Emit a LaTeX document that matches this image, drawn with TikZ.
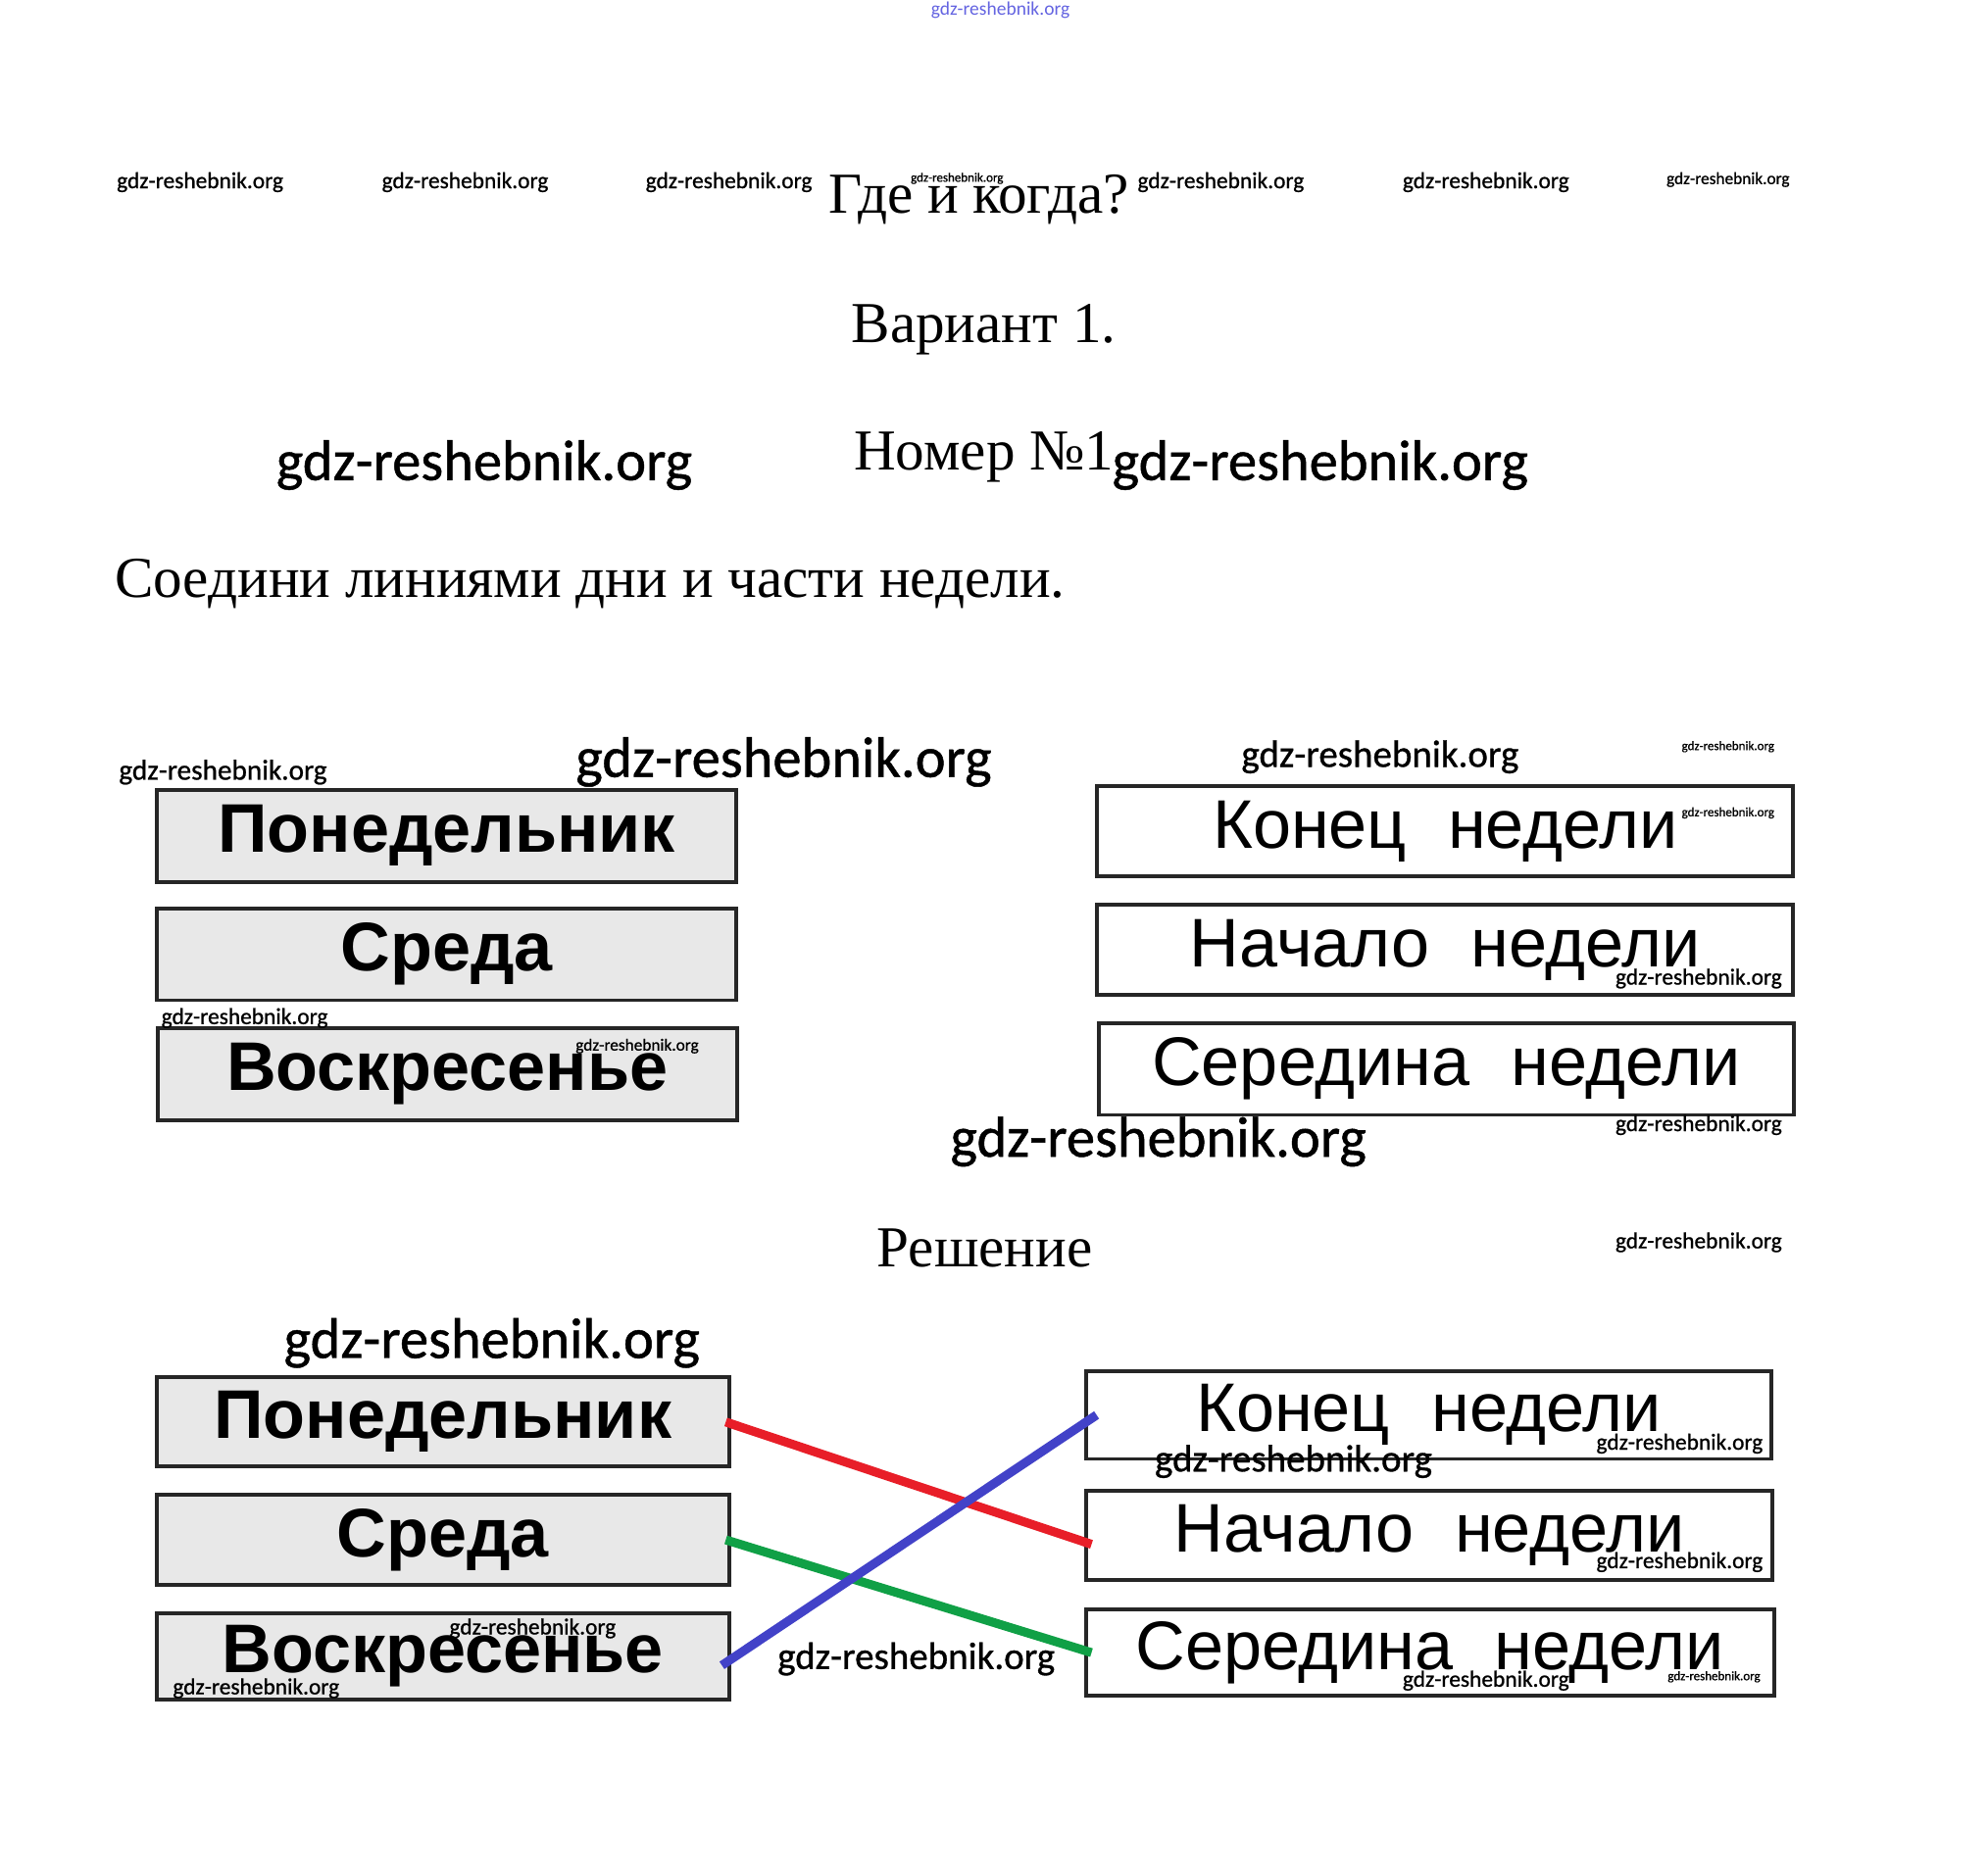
\documentclass[tikz,border=0pt]{standalone}
\usepackage{fontspec}
\setmainfont{Liberation Serif}
\newfontfamily\wmfont[FakeBold=0.8]{Carlito}
\newfontfamily\wmthin{Carlito}
\newfontfamily\arialfont{Liberation Sans}
\definecolor{boxgray}{RGB}{232,232,232}
\definecolor{lred}{RGB}{232,30,40}
\definecolor{lblue}{RGB}{66,66,200}
\definecolor{lgreen}{RGB}{16,160,70}
\definecolor{wblue}{RGB}{100,100,225}
\newcommand\wmk[4]{\node[wmnode,font=\wmfont\fontsize{#4}{#4}\selectfont] (#1) at (#2,#3) {gdz-reshebnik.org};}
\begin{document}
\begin{tikzpicture}[x=1pt,y=-1pt,
  wmnode/.style={inner sep=0pt,text=black},
  ttl/.style={anchor=base west,inner sep=0pt,font=\fontsize{45.5}{50}\selectfont},
  daybox/.style={draw=black!85,line width=3pt,fill=boxgray,inner sep=0pt,
     font=\arialfont\bfseries\fontsize{54}{58}\selectfont},
  partbox/.style={draw=black!85,line width=3pt,fill=white,inner sep=0pt,
     font=\arialfont\fontsize{54}{58}\selectfont},
  link/.style={line width=7pt}]
\fill[white] (0,0) rectangle (1560,1471.5);
\useasboundingbox (0,0) rectangle (1560,1471.5);
% titles
\node[ttl] (t1) at (650,167) {Где и когда?};
\node[ttl] (t2) at (668,269) {Вариант 1.};
\node[ttl] (t3) at (670,369) {Номер №1};
\node[ttl] (t4) at (90,469) {Соедини линиями дни и части недели.};
\node[ttl] (t5) at (688,994) {Решение};
% upper boxes
\node[daybox,minimum width=455pt,minimum height=72pt] (a1) at (350.5,656) {Понедельник};
\node[daybox,minimum width=455pt,minimum height=72pt] (a2) at (350.5,749) {Среда};
\node[daybox,minimum width=455pt,minimum height=72pt] (a3) at (351,843) {Воскресенье};
\node[partbox,minimum width=546pt,minimum height=71pt] (b1) at (1134,652.5) {Конец\hspace{0.6em}недели};
\node[partbox,minimum width=546pt,minimum height=71pt] (b2) at (1134,745.5) {Начало\hspace{0.6em}недели};
\node[partbox,minimum width=546pt,minimum height=72pt] (b3) at (1135,839) {Середина\hspace{0.6em}недели};
% lower boxes
\node[daybox,minimum width=449pt,minimum height=70pt] (c1) at (347.5,1116) {Понедельник};
\node[daybox,minimum width=449pt,minimum height=71pt] (c2) at (347.5,1208.5) {Среда};
\node[daybox,minimum width=449pt,minimum height=68pt] (c3) at (347.5,1300) {Воскресенье};
\node[partbox,minimum width=538pt,minimum height=69pt] (d1) at (1121,1110.5) {Конец\hspace{0.6em}недели};
\node[partbox,minimum width=539pt,minimum height=70pt] (d2) at (1121.5,1205) {Начало\hspace{0.6em}недели};
\node[partbox,minimum width=540pt,minimum height=68pt] (d3) at (1122,1297) {Середина\hspace{0.6em}недели};
% connecting lines
\draw[link,lred] ([xshift=-4pt]c1.east) -- ([xshift=6pt,yshift=-7pt]d2.west);
\draw[link,lgreen] ([xshift=-4pt]c2.east) -- ([xshift=6pt]d3.west);
\draw[link,lblue] ([xshift=-7pt,yshift=-7pt]c3.east) -- ([xshift=10pt]d1.west);
% watermarks
\node[wmnode,text=wblue,font=\wmthin\fontsize{15}{15}\selectfont] (w0) at (785,8) {gdz-reshebnik.org};
\wmk{w1}{157}{143}{18}
\wmk{w2}{365}{143}{18}
\wmk{w3}{572}{143}{18}
\wmk{w4}{751}{140}{10}
\wmk{w5}{958}{143}{18}
\wmk{w6}{1166}{143}{18}
\wmk{w7}{1356}{141}{13.3}
\wmk{w8}{380}{365}{45}
\wmk{w9}{1036}{365}{45}
\wmk{w10}{175}{606}{22.5}
\wmk{w11}{615}{598}{45}
\wmk{w12}{1083}{594}{30}
\wmk{w13}{1356}{586}{10}
\wmk{w14}{1356}{638}{10}
\wmk{w15}{1333}{768}{18}
\wmk{w16}{192}{799}{18}
\wmk{w17}{500}{821}{13.3}
\wmk{w18}{909}{896}{45}
\wmk{w19}{1333}{883}{18}
\wmk{w20}{1333}{975}{18}
\wmk{w21}{386}{1054}{45}
\wmk{w22}{1015}{1147}{30}
\wmk{w23}{1318}{1133}{18}
\wmk{w24}{1318}{1226}{18}
\wmk{w25}{418}{1278}{18}
\wmk{w26}{719}{1302}{30}
\wmk{w27}{201}{1325}{18}
\wmk{w28}{1166}{1319}{18}
\wmk{w29}{1345}{1316}{10}
\end{tikzpicture}
\end{document}
